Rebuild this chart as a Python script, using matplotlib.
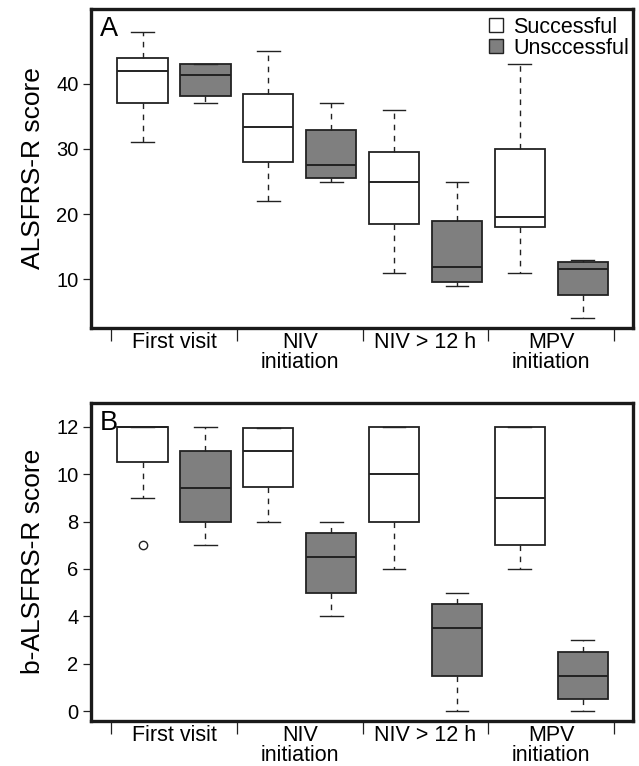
#!/usr/bin/env python3
"""ALSFRS-R and bulbar ALSFRS-R scores by stage, successful vs unsuccessful."""

import matplotlib
matplotlib.use("Agg")
import matplotlib.pyplot as plt
from matplotlib.lines import Line2D

plt.rcParams["font.family"] = ["Liberation Sans", "DejaVu Sans"]

STAGES = ["First visit", "NIV\ninitiation", "NIV > 12 h", "MPV\ninitiation"]
GROUPS = ["Successful", "Unsccessful"]

# five-number summaries per stage: (whisker low, Q1, median, Q3, whisker high)
A_SUCCESS = [(31, 37, 41.9, 44, 48), (22, 28, 33.4, 38.5, 45),
             (11, 18.5, 25, 29.6, 36), (11, 18, 19.6, 30, 43)]
A_FAIL = [(37, 38.2, 41.4, 43, 43), (25, 25.5, 27.6, 32.9, 37),
          (9, 9.5, 11.8, 19, 25), (4, 7.5, 11.5, 12.6, 13)]
A_SUCCESS_OUT = [[], [], [], []]
A_FAIL_OUT = [[], [], [], []]

B_SUCCESS = [(9, 10.5, 12, 12, 12), (8, 9.45, 11, 11.95, 11.95),
             (6, 8, 10, 12, 12), (6, 7, 9, 12, 12)]
B_FAIL = [(7, 8, 9.42, 11, 12), (4, 5, 6.5, 7.5, 8),
          (0, 1.5, 3.5, 4.5, 5), (0, 0.5, 1.5, 2.5, 3)]
B_SUCCESS_OUT = [[7], [], [], []]
B_FAIL_OUT = [[], [], [], []]

EDGE = "#222222"
FILLS = ["white", "#7f7f7f"]


def to_stats(summaries, outliers):
    stats = []
    for (lo, q1, med, q3, hi), fl in zip(summaries, outliers):
        stats.append({"whislo": lo, "q1": q1, "med": med, "q3": q3,
                      "whishi": hi, "fliers": fl})
    return stats


def draw_panel(ax, series, outs, letter, ylabel, yticks, ylim):
    n = len(STAGES)
    for k, (summ, fl) in enumerate(zip(series, outs)):
        pos = [i + 1 + (-0.25 if k == 0 else 0.25) for i in range(n)]
        ax.bxp(
            to_stats(summ, fl), positions=pos, widths=0.4, capwidths=0.18,
            patch_artist=True, manage_ticks=False,
            boxprops=dict(facecolor=FILLS[k], edgecolor=EDGE, linewidth=1.3),
            whiskerprops=dict(color=EDGE, linewidth=1.0, linestyle=(0, (4, 4))),
            capprops=dict(color=EDGE, linewidth=1.0),
            medianprops=dict(color=EDGE, linewidth=1.4),
            flierprops=dict(marker="o", markerfacecolor="white",
                            markeredgecolor=EDGE, markersize=6, markeredgewidth=1.0),
        )

    ax.set_xlim(0.34, 4.65)
    ax.set_ylim(*ylim)
    for sp in ax.spines.values():
        sp.set_linewidth(2.4)
        sp.set_color("#1a1a1a")

    ax.set_xticks([0.5, 1.5, 2.5, 3.5, 4.5])
    ax.set_xticklabels([])
    ax.tick_params(axis="x", which="major", length=9.5, width=0.9,
                   direction="out", color="#222222")
    ax.set_xticks([1, 2, 3, 4], minor=True)
    ax.set_xticklabels(STAGES, minor=True, fontsize=15.5, linespacing=0.95)
    ax.tick_params(axis="x", which="minor", length=0, pad=3)

    ax.set_yticks(yticks)
    ax.tick_params(axis="y", length=6, width=0.9, pad=3, labelsize=14.5,
                   color="#222222")
    ax.set_ylabel(ylabel, fontsize=19, labelpad=8)

    ax.text(0.016, 0.978, letter, transform=ax.transAxes, fontsize=19.5,
            va="top", ha="left")


fig = plt.figure(figsize=(6.39, 7.66), dpi=100)
axA = fig.add_axes([0.1424, 0.5718, 0.8482, 0.4165])
axB = fig.add_axes([0.1424, 0.0587, 0.8482, 0.4156])

draw_panel(axA, [A_SUCCESS, A_FAIL], [A_SUCCESS_OUT, A_FAIL_OUT], "A",
           "ALSFRS-R score", [10, 20, 30, 40], (2.5, 51.5))
draw_panel(axB, [B_SUCCESS, B_FAIL], [B_SUCCESS_OUT, B_FAIL_OUT], "B",
           "b-ALSFRS-R score", [0, 2, 4, 6, 8, 10, 12], (-0.42, 13.02))

handles = [Line2D([], [], marker="s", linestyle="", markerfacecolor=c,
                  markeredgecolor=EDGE, markersize=10, markeredgewidth=1.0)
           for c in FILLS]
axA.legend(handles, GROUPS, loc="upper right", bbox_to_anchor=(0.993, 0.976),
           frameon=False, fontsize=15.5, handlelength=0.8, handletextpad=0.4,
           labelspacing=0.0, borderaxespad=0, borderpad=0)

fig.savefig("out.png", dpi=100)
